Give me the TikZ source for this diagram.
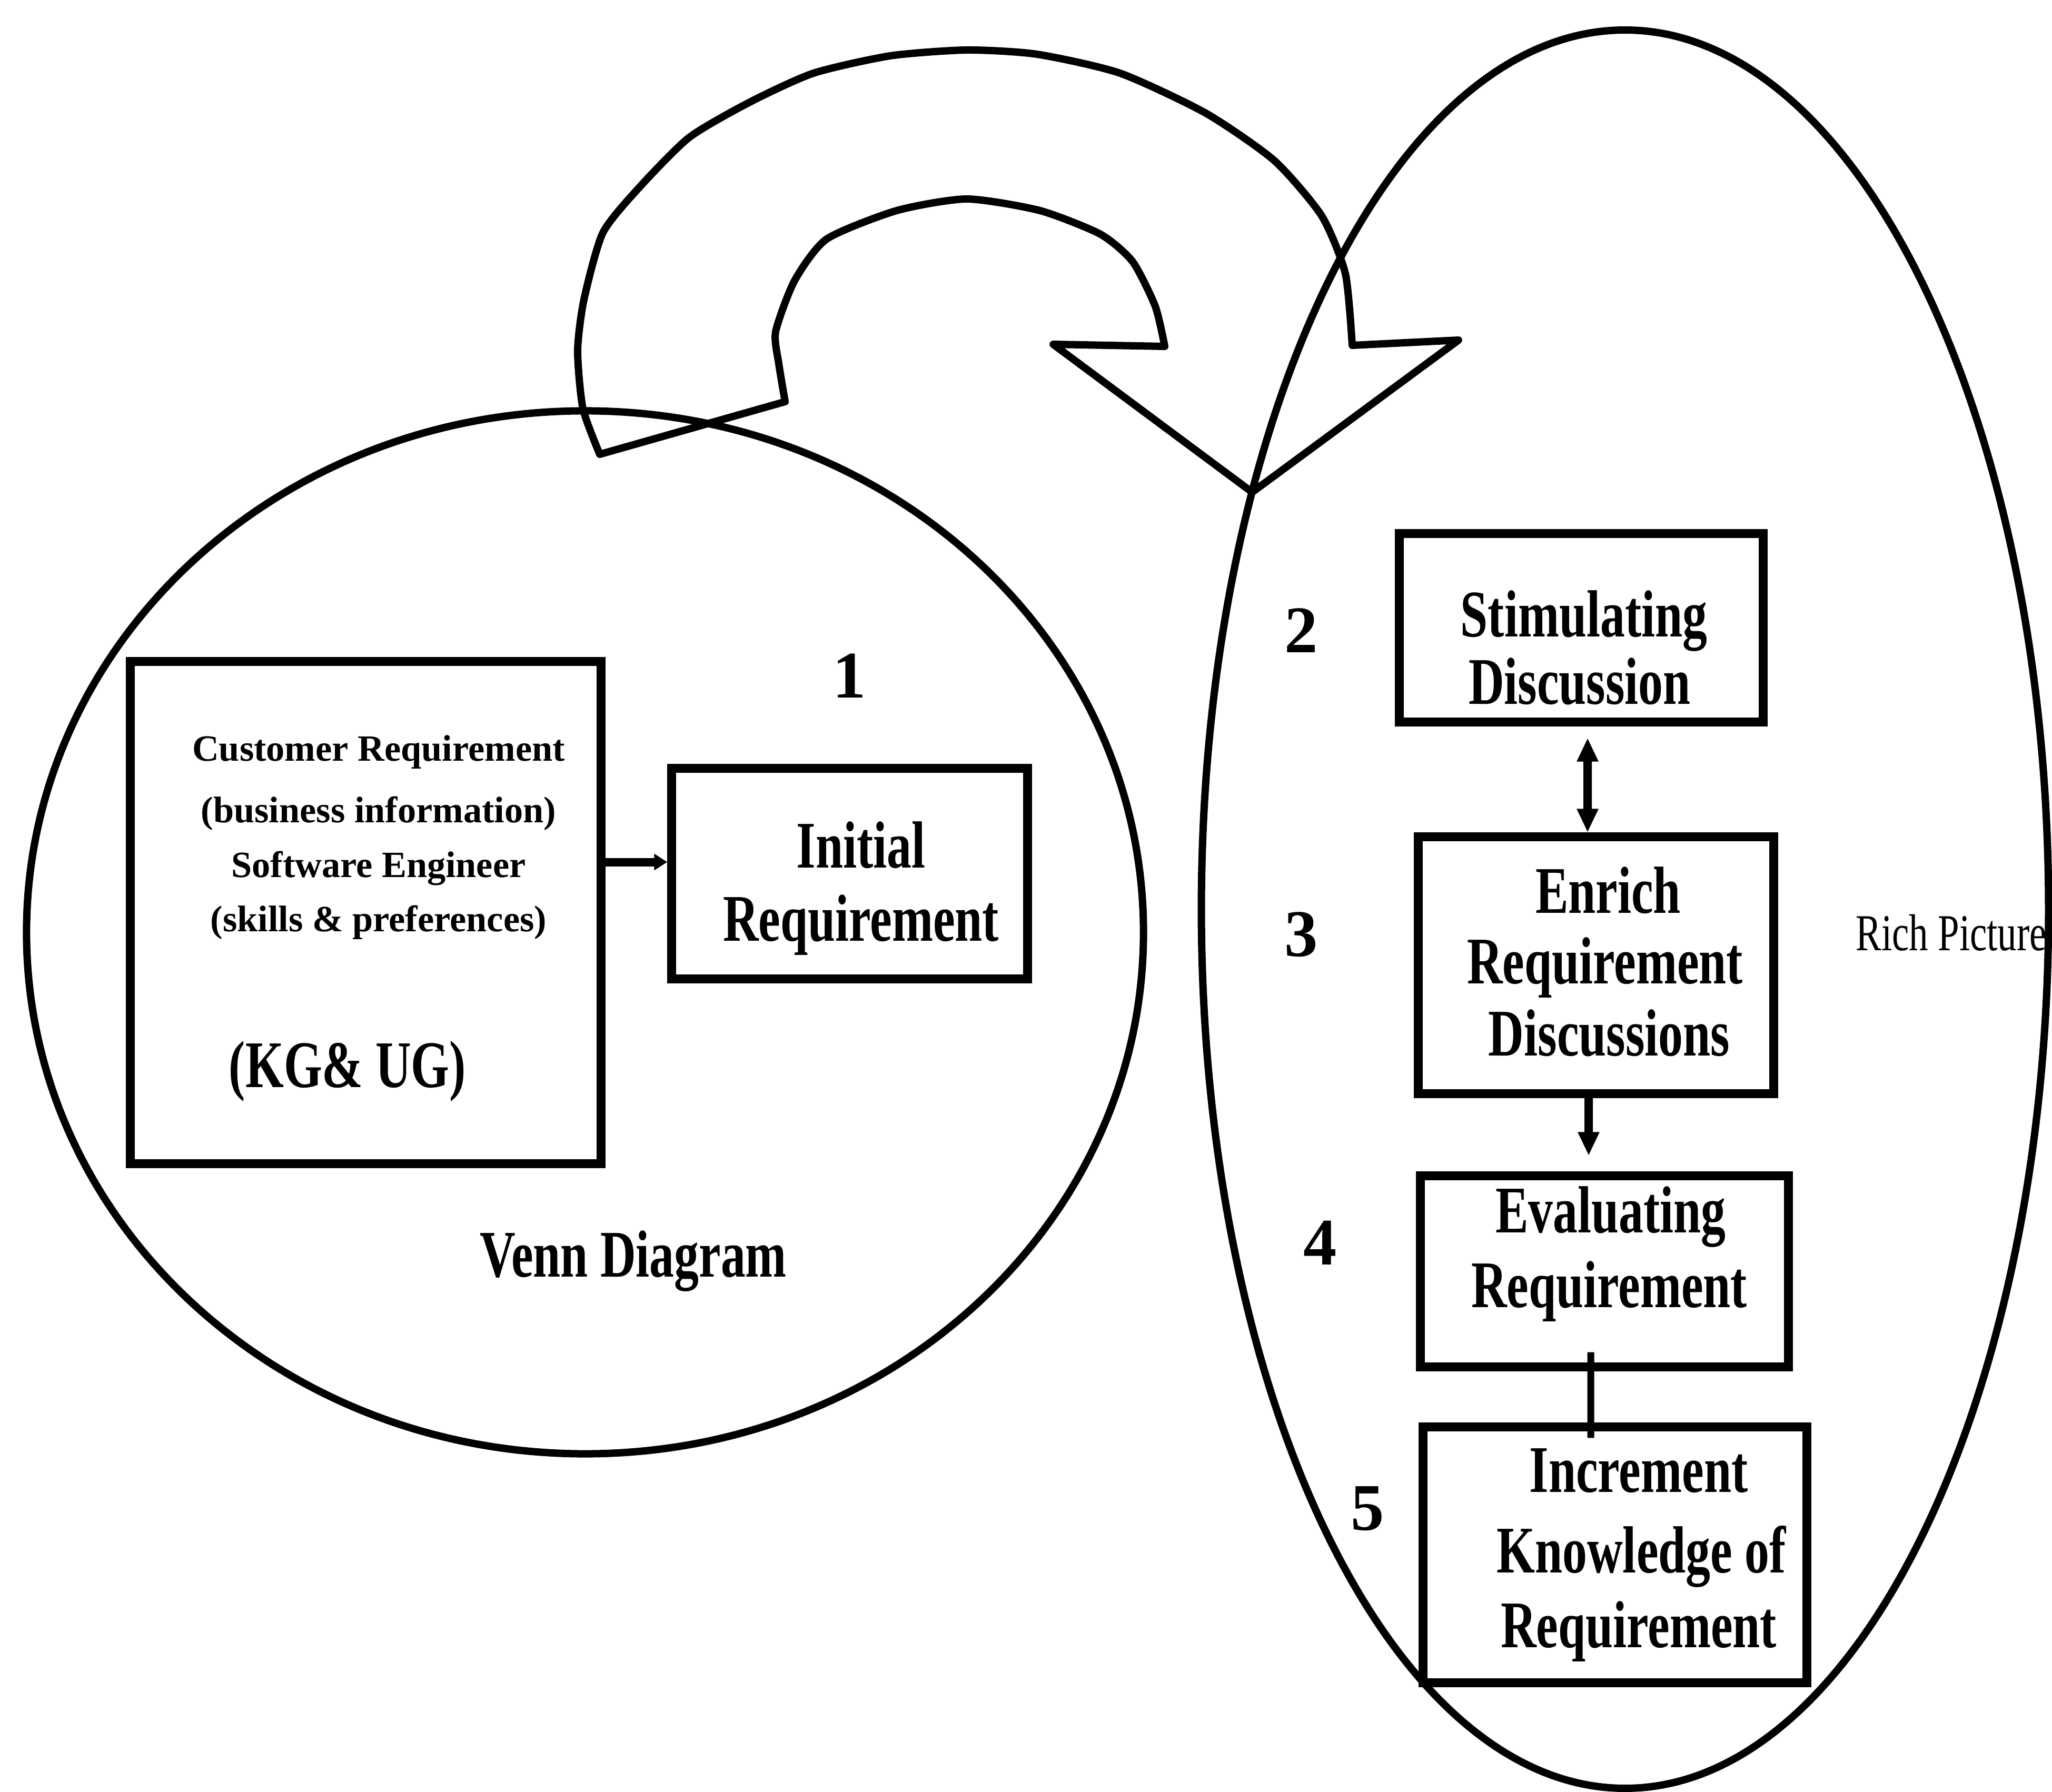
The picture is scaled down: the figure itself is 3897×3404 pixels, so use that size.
\documentclass[tikz,border=0pt]{standalone}
\usepackage{fontspec}
\setmainfont{Liberation Serif}
\newfontfamily\narrowserif[FakeStretch=0.74]{Liberation Serif}
\usetikzlibrary{arrows.meta,calc}

\begin{document}
\begin{tikzpicture}[x=0.01cm,y=-0.01cm,
  outline/.style={draw=black,line width=0.14cm,line join=round},
  stepbox/.style={draw=black,line width=0.17cm,rectangle,inner sep=0pt},
  flow/.style={draw=black,line width=0.16cm},
  headtip/.style={-{Triangle[length=0.45cm,width=0.38cm]}},
  bothtips/.style={{Triangle[length=0.45cm,width=0.38cm]}-{Triangle[length=0.45cm,width=0.38cm]}},
  boxtext/.style={font=\narrowserif\bfseries\fontsize{36}{40}\selectfont,inner sep=0pt,anchor=base},
  smalltext/.style={font=\bfseries\fontsize{20}{24}\selectfont,inner sep=0pt,anchor=base},
  numtext/.style={font=\bfseries\fontsize{36}{40}\selectfont,inner sep=0pt,anchor=base},
  sidetext/.style={font=\narrowserif\fontsize{28}{32}\selectfont,inner sep=0pt,anchor=base west},
]
% page
\fill[white] (0,0) rectangle (3897,3404);
\useasboundingbox (0,0) rectangle (3897,3404);

% the two regions
\draw[outline] (1111,1771) ellipse [x radius=10.60cm, y radius=9.90cm];
\draw[outline] (3086,1727) ellipse [x radius=8.04cm, y radius=16.69cm];

% curved block arrow from the Venn diagram to the rich picture
\draw[outline]
  plot[smooth,tension=0.4] coordinates {(1139,863) (1107,776) (1097,666) (1109,569) (1145,442)
     (1215,355) (1309,261) (1424,194) (1545,139) (1691,106) (1836,95) (1969,103) (2127,139)
     (2290,215) (2420,305) (2510,410) (2555,520) (2568,656)}
  -- (2770,646) -- (2378,935) -- (2000,654) -- (2212,658)
  -- plot[smooth,tension=0.4] coordinates {(2212,658) (2194,582) (2151,497) (2090,445) (1975,400)
     (1836,378) (1703,400) (1570,454) (1509,533) (1473,630) (1479,691) (1491,763)}
  -- cycle;

% boxes
\node[stepbox,minimum width=8.93cm,minimum height=9.53cm] (cust) at (694.5,1733.5) {};
\node[stepbox,minimum width=6.75cm,minimum height=3.99cm] (init) at (1613.5,1659.5) {};
\node[stepbox,minimum width=6.90cm,minimum height=3.57cm] (stim) at (3003,1192.5) {};
\node[stepbox,minimum width=6.74cm,minimum height=4.87cm] (enrich) at (3031,1833.5) {};
\node[stepbox,minimum width=6.98cm,minimum height=3.62cm] (eval) at (3047,2415) {};
\node[stepbox,minimum width=7.28cm,minimum height=4.85cm] (incr) at (3067,2953.5) {};

% connectors
\draw[flow,-{Triangle[length=0.25cm,width=0.3cm]}] ($(cust.east)+(0,-96)$) -- ($(init.west)+(0,-22)$);
\draw[flow,bothtips] ([xshift=0.12cm,yshift=-0.22cm]stim.south) -- ([xshift=-0.16cm]enrich.north);
\draw[flow,headtip] ([xshift=-0.14cm]enrich.south) -- ([xshift=-0.30cm,yshift=0.30cm]eval.north);
\draw[flow,line width=0.13cm] ([xshift=-0.26cm,yshift=0.36cm]eval.south) -- ([xshift=-0.46cm,yshift=-0.29cm]incr.north);

% texts of the Venn diagram
\node[smalltext] (cust1) at (719,1445) {Customer Requirement};
\node[smalltext] (cust2) at (719,1562) {(business information)};
\node[smalltext] (cust3) at (719,1666) {Software Engineer};
\node[smalltext] (cust4) at (719,1769) {(skills \& preferences)};
\node[boxtext] (kgug) at (660,2065) {(KG\& UG)};
\node[boxtext] (init1) at (1635,1648) {Initial};
\node[boxtext] (init2) at (1635,1787) {Requirement};
\node[boxtext] (venn) at (1203,2425) {Venn Diagram};

% texts of the rich picture
\node[boxtext] (stim1) at (3008,1209) {Stimulating};
\node[boxtext] (stim2) at (3000,1337) {Discussion};
\node[boxtext] (enrich1) at (3054,1734) {Enrich};
\node[boxtext] (enrich2) at (3048,1868) {Requirement};
\node[boxtext] (enrich3) at (3056,2005) {Discussions};
\node[boxtext] (eval1) at (3059,2341) {Evaluating};
\node[boxtext] (eval2) at (3056,2483) {Requirement};
\node[boxtext] (incr1) at (3112,2834) {Increment};
\node[boxtext] (incr2) at (3117,2987) {Knowledge of};
\node[boxtext] (incr3) at (3112,3129) {Requirement};
\node[sidetext] (rich) at (3524,1805) {Rich Picture};

% step numbers
\node[numtext] (n1) at (1613,1325) {1};
\node[numtext] (n2) at (2471,1239) {2};
\node[numtext] (n3) at (2471,1816) {3};
\node[numtext] (n4) at (2507,2402) {4};
\node[numtext] (n5) at (2597,2906) {5};
\end{tikzpicture}
\end{document}
